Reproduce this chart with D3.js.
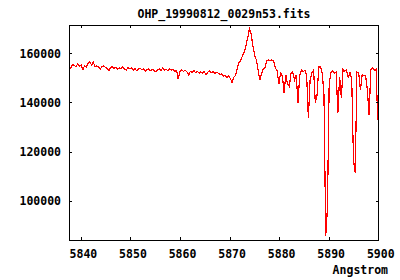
<!DOCTYPE html>
<html>
<head>
<meta charset="utf-8">
<script src="https://cdn.jsdelivr.net/npm/d3@7"></script>
<style>
body { margin:0; background:#fff; }
svg { display:block; }
text { font-family:"DejaVu Sans Mono", monospace; font-weight:bold; font-size:11.5px; fill:#000; }
</style>
</head>
<body>
<div id="chart"></div>
<script>
// spectrum header (start wavelength + step, as in the fits file)
var crval1 = 5837.6
var cdelt1 = 0.35

var flux = [
 154500,154000,155400,155000,154600,155600,154800,155300,153400,155000,
 154400,155800,156600,155200,156300,154600,154900,154400,153500,154700,
 154800,154300,153900,153000,154200,154500,153800,154300,153600,154000,
 153700,154400,153600,153200,154100,153700,154000,153100,153800,152900,
 153500,153900,153200,153600,152700,153300,153600,152900,153400,153000,
 152500,153300,153600,153000,153900,153200,153500,152800,153700,153100,
 153400,152700,153000,149400,152600,153300,152600,153100,152400,151200,
 152700,152200,152900,152100,152600,151900,152400,152000,152600,151200,
 152300,152700,152000,152500,151800,152300,151900,151300,151700,150600,
 151000,150200,150700,149800,148000,150300,150900,154000,156100,157100,
 158900,160500,163000,166200,169900,167800,163000,159300,157300,153200,
 149100,151600,153600,154000,156900,157300,156900,157300,156900,154000,
 152800,147500,152000,150800,143900,151200,147500,146500,152000,152400,
 149100,151200,139800,150800,153200,152400,153200,151200,133700,149100,
 152000,153200,139800,143000,154400,154400,152000,143000,85500,97100,
 147900,152000,152800,152000,152400,135700,150500,142000,153600,152800,
 153200,150000,152400,149100,116600,111300,152400,152000,145100,151200,
 150800,150800,145100,134900,153200,154000,153200,153600,132900,149100
]

var x_ticks = [5840, 5850, 5860, 5870, 5880, 5890, 5900]
var y_ticks = [100000, 120000, 140000, 160000]
var title = "OHP_19990812_0029n53.fits"
var x_label = "Angstrom"

var W = 400, H = 280
var m_left = 69, m_right = 379, m_top = 25, m_bottom = 240

var data = flux.map(function(f, i){ return [crval1 + i*cdelt1, f] })

var x = d3.scaleLinear().domain([5837.6, 5900.15]).range([m_left, m_right])
var y = d3.scaleLinear().domain([84000, 171500]).range([m_bottom, m_top])

var svg = d3.select("#chart").append("svg")
    .attr("width", W)
    .attr("height", H)

svg.append("clipPath").attr("id", "plot_clip")
  .append("rect")
    .attr("x", m_left).attr("y", m_top)
    .attr("width", m_right-m_left).attr("height", m_bottom-m_top)

// spectrum
svg.append("path")
    .datum(data)
    .attr("clip-path", "url(#plot_clip)")
    .attr("fill", "none")
    .attr("stroke", "#ff0000")
    .attr("stroke-width", 1.2)
    .attr("shape-rendering", "crispEdges")
    .attr("d", d3.line().x(function(d){ return x(d[0]) }).y(function(d){ return y(d[1]) }))

// axes, ticks pointing inwards on all four sides
var ax_b = svg.append("g").attr("transform", "translate(0," + m_bottom + ")")
    .call(d3.axisBottom(x).tickValues(x_ticks).tickSizeInner(-3).tickSizeOuter(0).tickPadding(9).tickFormat(d3.format("d")))
var ax_t = svg.append("g").attr("transform", "translate(0," + m_top + ")")
    .call(d3.axisTop(x).tickValues(x_ticks).tickSizeInner(-3).tickSizeOuter(0).tickFormat(""))
var ax_l = svg.append("g").attr("transform", "translate(" + m_left + ",0)")
    .call(d3.axisLeft(y).tickValues(y_ticks).tickSizeInner(-3).tickSizeOuter(0).tickPadding(8).tickFormat(d3.format("d")))
var ax_r = svg.append("g").attr("transform", "translate(" + m_right + ",0)")
    .call(d3.axisRight(y).tickValues(y_ticks).tickSizeInner(-3).tickSizeOuter(0).tickFormat(""))

svg.selectAll(".domain").remove()
svg.selectAll(".tick line").attr("stroke", "#000").attr("shape-rendering", "crispEdges")
svg.selectAll(".tick text")
    .style("font-family", "'DejaVu Sans Mono', monospace")
    .style("font-weight", "bold")
    .style("font-size", "11.5px")
ax_b.selectAll(".tick text").attr("dx", 2).attr("dy", null).attr("y", 17.5)
ax_l.selectAll(".tick text").attr("dy", null).attr("y", 4)

// frame
svg.append("rect")
    .attr("x", m_left + 0.5)
    .attr("y", m_top + 0.5)
    .attr("width", m_right-m_left-1)
    .attr("height", m_bottom-m_top)
    .attr("fill", "none")
    .attr("stroke", "#000")
    .attr("stroke-width", 1)
    .attr("shape-rendering", "crispEdges")

// TEXT
svg.append("text")
    .text(title)
    .attr("x", (m_left+m_right)/2)
    .attr("y", 18)
    .style("text-anchor", "middle")
svg.append("text")
    .text(x_label)
    .attr("x", 388)
    .attr("y", 273.5)
    .style("text-anchor", "end")
</script>
</body>
</html>
